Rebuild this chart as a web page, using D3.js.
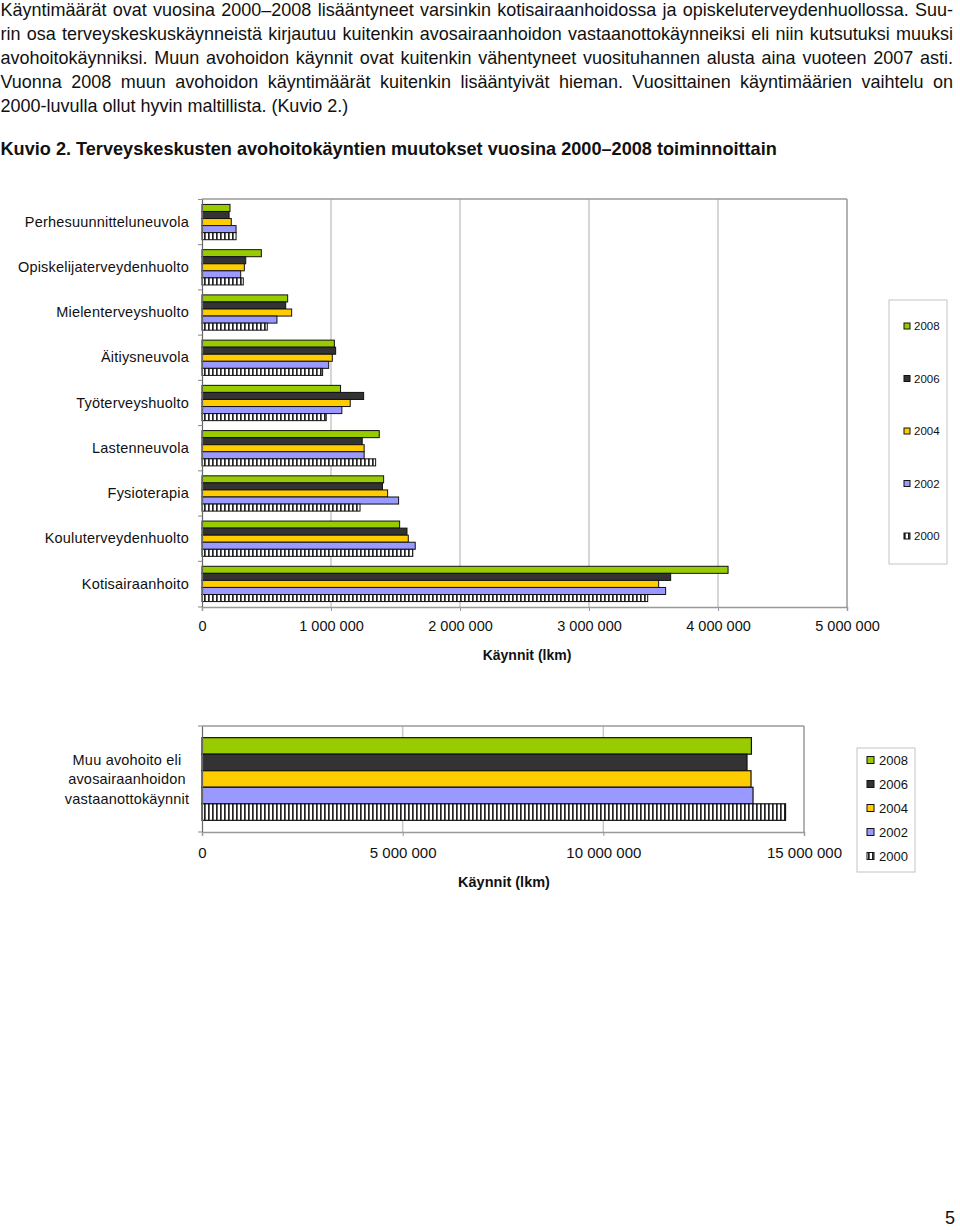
<!DOCTYPE html>
<html>
<head>
<meta charset="utf-8">
<script src="https://cdn.jsdelivr.net/npm/d3@7"></script>
<style>
  html, body { margin: 0; padding: 0; background: #fff; }
  svg { display: block; }
  text { font-family: "Liberation Sans", Arial, sans-serif; fill: #111; }
</style>
</head>
<body>
<script>
// ---------------- DATA ----------------
const paragraphLines = [
  "Käyntimäärät ovat vuosina 2000–2008 lisääntyneet varsinkin kotisairaanhoidossa ja opiskeluterveydenhuollossa. Suu-",
  "rin osa terveyskeskuskäynneistä kirjautuu kuitenkin avosairaanhoidon vastaanottokäynneiksi eli niin kutsutuksi muuksi",
  "avohoitokäynniksi. Muun avohoidon käynnit ovat kuitenkin vähentyneet vuosituhannen alusta aina vuoteen 2007 asti.",
  "Vuonna 2008 muun avohoidon käyntimäärät kuitenkin lisääntyivät hieman. Vuosittainen käyntimäärien vaihtelu on",
  "2000-luvulla ollut hyvin maltillista. (Kuvio 2.)"
];
const heading = "Kuvio 2. Terveyskeskusten avohoitokäyntien muutokset vuosina 2000–2008 toiminnoittain";

const categories = [
  "Perhesuunnitteluneuvola",
  "Opiskelijaterveydenhuolto",
  "Mielenterveyshuolto",
  "Äitiysneuvola",
  "Työterveyshuolto",
  "Lastenneuvola",
  "Fysioterapia",
  "Kouluterveydenhuolto",
  "Kotisairaanhoito"
];
const years = ["2008", "2006", "2004", "2002", "2000"];
const v2008 = [217000, 460000, 664000, 1026000, 1074000, 1374000, 1408000, 1532000, 4078000];
const v2006 = [210000, 339000, 649000, 1036000, 1253000, 1242000, 1399000, 1589000, 3633000];
const v2004 = [227000, 328000, 695000, 1010000, 1149000, 1257000, 1439000, 1599000, 3540000];
const v2002 = [264000, 300000, 581000, 982000, 1084000, 1257000, 1524000, 1653000, 3594000];
const v2000 = [264000, 320000, 506000, 935000, 963000, 1346000, 1225000, 1634000, 3455000];

const topTicks = [0, 1000000, 2000000, 3000000, 4000000, 5000000];
const topTickLabels = ["0", "1 000 000", "2 000 000", "3 000 000", "4 000 000", "5 000 000"];

const bottomCategory = ["Muu avohoito eli avosairaanhoidon vastaanottokäynnit"];
const bottomCategoryLines = ["Muu avohoito eli", "avosairaanhoidon", "vastaanottokäynnit"];
const muuAvohoito = [13690000, 13580000, 13680000, 13730000, 14540000]; // 2008, 2006, 2004, 2002, 2000
const bottomTicks = [0, 5000000, 10000000, 15000000];
const bottomTickLabels = ["0", "5 000 000", "10 000 000", "15 000 000"];

const axisTitle = "Käynnit (lkm)";
const pageNumber = "5";

// ---------------- SETUP ----------------
const seriesValues = { "2008": v2008, "2006": v2006, "2004": v2004, "2002": v2002, "2000": v2000 };
const colors = { "2008": "#99cc00", "2006": "#333333", "2004": "#ffcc00", "2002": "#9999ff", "2000": "url(#stripes)" };

const svg = d3.select("body").append("svg").attr("width", 960).attr("height", 1230);
const defs = svg.append("defs");
const pat = defs.append("pattern").attr("id", "stripes").attr("patternUnits", "userSpaceOnUse")
  .attr("width", 4).attr("height", 4);
pat.append("rect").attr("width", 4).attr("height", 4).attr("fill", "#fff");
pat.append("rect").attr("width", 1.7).attr("height", 4).attr("fill", "#222");

// ---------------- PARAGRAPH ----------------
const textLeft = 0.5, textRight = 953;
const baseSize = 16;
const lineY0 = 15.5, lineGap = 24.1;

function measure(str, size, weight) {
  const t = svg.append("text").attr("font-size", size).attr("font-weight", weight || "normal").text(str);
  const w = t.node().getComputedTextLength();
  t.remove();
  return w;
}
const lastW = measure(paragraphLines[4], baseSize);
const pSize = baseSize * 348 / lastW;

paragraphLines.forEach((line, i) => {
  const y = lineY0 + i * lineGap;
  if (i < paragraphLines.length - 1) {
    const words = line.split(" ");
    const widths = words.map(w => measure(w, pSize));
    const total = d3.sum(widths);
    const gap = (textRight - textLeft - total) / (words.length - 1);
    const t = svg.append("text").attr("font-size", pSize).attr("y", y);
    let x = textLeft;
    words.forEach((w, j) => {
      t.append("tspan").attr("x", x).attr("y", y).text(w);
      x += widths[j] + gap;
    });
  } else {
    svg.append("text").attr("font-size", pSize).attr("x", textLeft).attr("y", y).text(line);
  }
});

const hW = measure(heading, 16, "bold");
svg.append("text").attr("x", 0.5).attr("y", 154.5).attr("font-weight", "bold")
  .attr("font-size", 16 * 777 / hW).text(heading);

// ---------------- TOP CHART ----------------
const x1 = d3.scaleLinear().domain([0, 5000000]).range([202, 847]);
const y1 = d3.scaleBand().domain(categories).range([199, 607]).paddingInner(0.22).paddingOuter(0.12);
const yi1 = d3.scaleBand().domain(years).range([0, y1.bandwidth()]);

const g1 = svg.append("g");
g1.selectAll("line.grid").data(topTicks.slice(1, -1)).join("line")
  .attr("x1", d => x1(d)).attr("x2", d => x1(d)).attr("y1", 199).attr("y2", 607)
  .attr("stroke", "#c8c8c8").attr("stroke-width", 1.5);
g1.append("line").attr("x1", x1(0)).attr("x2", x1(5000000)).attr("y1", 199).attr("y2", 199)
  .attr("stroke", "#9a9a9a").attr("stroke-width", 1.5);
g1.append("line").attr("x1", x1(5000000)).attr("x2", x1(5000000)).attr("y1", 199).attr("y2", 607)
  .attr("stroke", "#9a9a9a").attr("stroke-width", 1.5);

categories.forEach((c, ci) => {
  years.forEach(yr => {
    g1.append("rect")
      .attr("x", x1(0))
      .attr("y", y1(c) + yi1(yr))
      .attr("width", x1(seriesValues[yr][ci]) - x1(0))
      .attr("height", yi1.bandwidth())
      .attr("fill", colors[yr])
      .attr("stroke", "#111").attr("stroke-width", 1);
  });
});

const leftAx = g1.append("g").attr("transform", `translate(${x1(0)},0)`)
  .call(d3.axisLeft(y1).tickSize(0).tickPadding(13));
leftAx.select(".domain").attr("stroke", "#666").attr("stroke-width", 1.2);
leftAx.selectAll("text").attr("font-size", 14.5).attr("fill", "#111").attr("letter-spacing", 0.2)
  .attr("font-family", '"Liberation Sans", Arial, sans-serif');
const bounds = categories.map(c => y1(c) - y1.step() * y1.paddingInner() / 2).concat([607]);
g1.selectAll("line.ctick").data(bounds).join("line")
  .attr("x1", x1(0) - 4).attr("x2", x1(0)).attr("y1", d => d).attr("y2", d => d)
  .attr("stroke", "#888");

const botAx = g1.append("g").attr("transform", "translate(0,607)")
  .call(d3.axisBottom(x1).tickValues(topTicks).tickSize(4).tickPadding(10)
    .tickFormat((d, i) => topTickLabels[i]));
botAx.select(".domain").attr("stroke", "#999").attr("stroke-width", 1.5);
botAx.selectAll(".tick line").attr("stroke", "#999");
botAx.selectAll("text").attr("font-size", 14.5).attr("fill", "#111")
  .attr("font-family", '"Liberation Sans", Arial, sans-serif');

g1.append("text").attr("x", 527).attr("y", 660).attr("text-anchor", "middle")
  .attr("font-weight", "bold").attr("font-size", 14).text(axisTitle);

const lg1 = svg.append("g");
lg1.append("rect").attr("x", 889).attr("y", 300).attr("width", 58).attr("height", 264)
  .attr("fill", "#fff").attr("stroke", "#c4c4c4");
const ly1 = d3.scalePoint().domain(years).range([326, 536]);
years.forEach(yr => {
  lg1.append("rect").attr("x", 904).attr("y", ly1(yr) - 3).attr("width", 6).attr("height", 6)
    .attr("fill", colors[yr]).attr("stroke", "#111");
  lg1.append("text").attr("x", 914).attr("y", ly1(yr)).attr("dy", "0.36em")
    .attr("font-size", 11.5).text(yr);
});

// ---------------- BOTTOM CHART ----------------
const x2 = d3.scaleLinear().domain([0, 15000000]).range([202, 804]);
const y2 = d3.scaleBand().domain(bottomCategory).range([726, 832]).paddingInner(0.22).paddingOuter(0.11);
const yi2 = d3.scaleBand().domain(years).range([0, y2.bandwidth()]);

const g2 = svg.append("g");
g2.selectAll("line.grid").data(bottomTicks.slice(1, -1)).join("line")
  .attr("x1", d => x2(d)).attr("x2", d => x2(d)).attr("y1", 726).attr("y2", 832)
  .attr("stroke", "#c8c8c8").attr("stroke-width", 1.5);
g2.append("line").attr("x1", x2(0)).attr("x2", x2(15000000)).attr("y1", 726).attr("y2", 726)
  .attr("stroke", "#9a9a9a").attr("stroke-width", 1.5);
g2.append("line").attr("x1", x2(15000000)).attr("x2", x2(15000000)).attr("y1", 726).attr("y2", 832)
  .attr("stroke", "#9a9a9a").attr("stroke-width", 1.5);

years.forEach((yr, i) => {
  g2.append("rect")
    .attr("x", x2(0))
    .attr("y", y2(bottomCategory[0]) + yi2(yr))
    .attr("width", x2(muuAvohoito[i]) - x2(0))
    .attr("height", yi2.bandwidth())
    .attr("fill", colors[yr])
    .attr("stroke", "#111").attr("stroke-width", 1.2);
});

const leftAx2 = g2.append("g").attr("transform", `translate(${x2(0)},0)`)
  .call(d3.axisLeft(y2).tickSize(0).tickFormat(""));
leftAx2.select(".domain").attr("stroke", "#666").attr("stroke-width", 1.2);
g2.selectAll("line.ctick").data([726, 832]).join("line")
  .attr("x1", x2(0) - 4).attr("x2", x2(0)).attr("y1", d => d).attr("y2", d => d)
  .attr("stroke", "#888");

bottomCategoryLines.forEach((l, i) => {
  g2.append("text").attr("x", 127).attr("y", y2(bottomCategory[0]) + y2.bandwidth() / 2 - 19.5 + i * 19.5)
    .attr("dy", "0.36em").attr("text-anchor", "middle").attr("font-size", 14.5).attr("letter-spacing", 0.2).text(l);
});

const botAx2 = g2.append("g").attr("transform", "translate(0,832)")
  .call(d3.axisBottom(x2).tickValues(bottomTicks).tickSize(4).tickPadding(11)
    .tickFormat((d, i) => bottomTickLabels[i]));
botAx2.select(".domain").attr("stroke", "#999").attr("stroke-width", 1.5);
botAx2.selectAll(".tick line").attr("stroke", "#999");
botAx2.selectAll("text").attr("font-size", 15).attr("fill", "#111")
  .attr("font-family", '"Liberation Sans", Arial, sans-serif');

g2.append("text").attr("x", 504).attr("y", 887).attr("text-anchor", "middle")
  .attr("font-weight", "bold").attr("font-size", 14.5).text(axisTitle);

const lg2 = svg.append("g");
lg2.append("rect").attr("x", 857).attr("y", 748).attr("width", 58).attr("height", 124)
  .attr("fill", "#fff").attr("stroke", "#c4c4c4");
const ly2 = d3.scalePoint().domain(years).range([760, 856]);
years.forEach(yr => {
  lg2.append("rect").attr("x", 867).attr("y", ly2(yr) - 3.5).attr("width", 7).attr("height", 7)
    .attr("fill", colors[yr]).attr("stroke", "#111");
  lg2.append("text").attr("x", 879).attr("y", ly2(yr)).attr("dy", "0.36em")
    .attr("font-size", 13).text(yr);
});

svg.append("text").attr("x", 945).attr("y", 1224)
  .attr("font-family", '"Liberation Serif", "DejaVu Serif", serif').attr("font-size", 18).text(pageNumber);
</script>
</body>
</html>
